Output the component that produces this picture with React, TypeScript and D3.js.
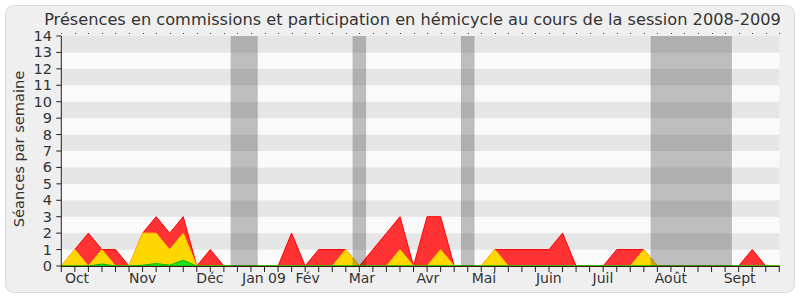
import React from "react";
import * as d3 from "d3";

// Weekly values (week 0 = end of Sept 2008 ... week 53 = end of Sept 2009)
const redSeries = [0,1,2,1,1,0,2,3,2,3,0,1,0,0,0,0,0,2,0,1,1,1,0,1,2,3,0,3,3,0,0,0,1,1,1,1,1,2,0,0,0,1,1,1,0,0,0,0,0,0,0,1,0,0];
const yellowSeries = [0,1,0,1,0,0,2,2,1,2,0,0,0,0,0,0,0,0,0,0,0,1,0,0,0,1,0,0,1,0,0,0,1,0,0,0,0,0,0,0,0,0,0,1,0,0,0,0,0,0,0,0,0,0];
const greenSeries = [0,0,0,0.12,0,0,0.05,0.15,0.05,0.35,0,0,0,0,0,0,0,0,0,0,0,0,0,0,0,0,0,0,0,0,0,0,0,0,0,0,0,0,0,0,0,0,0,0,0,0,0,0,0,0,0,0,0,0];
// Vacation periods [first week, last week]
const vacations: [number, number][] = [[13, 14], [22, 22], [30, 30], [44, 49]];
// Month labels with their (fractional) week position
const monthLabels = ["Oct", "Nov", "Déc", "Jan 09", "Fév", "Mar", "Avr", "Mai", "Juin", "Juil", "Août", "Sept"];
const monthWeeks = [1.16, 6.0, 10.97, 14.96, 18.18, 22.19, 27.06, 31.2, 35.99, 39.98, 45.0, 50.07];
const yTicks = d3.range(0, 15);
const title = "Présences en commissions et participation en hémicycle au cours de la session 2008-2009";
const yTitle = "Séances par semaine";

export default function App() {
  const W = 800, H = 300;
  const x = d3.scaleLinear().domain([0, 53]).range([61.3, 779.3]);
  const y = d3.scaleLinear().domain([0, 14]).range([266, 36]);
  const weeks = d3.range(0, 54);
  const area = (vals: number[]) =>
    d3.area<number>().x((_, i) => x(i)).y0(y(0)).y1((d) => y(d)).curve(d3.curveLinear)(vals) || "";
  const font = "'DejaVu Sans', Verdana, sans-serif";
  return (
    <svg width={W} height={H} style={{ position: "absolute", left: 0, top: 0 }} fontFamily={font}>
      <rect x={0} y={0} width={W} height={H} fill="#ffffff" />
      <rect x={5.5} y={5.5} width={789} height={287} rx={8} fill="#efefef" stroke="#dcdcdc" />
      {/* stripes */}
      {d3.range(0, 14).map((k) => (
        <rect key={k} x={x(0)} y={y(k + 1)} width={x(53) - x(0)} height={y(k) - y(k + 1)}
          fill={k % 2 === 1 ? "#e6e6e6" : "#fafafa"} />
      ))}
      {/* areas */}
      <path d={area(redSeries)} fill="#ff3333" stroke="#ff0000" strokeWidth={1} />
      <path d={area(yellowSeries)} fill="#ffd700" stroke="#ffcc00" strokeWidth={1} />
      <path d={area(greenSeries)} fill="#22dd22" stroke="#00bb00" strokeWidth={1} />
      {/* vacations */}
      {vacations.map(([a, b], i) => (
        <rect key={i} x={x(a - 0.5)} y={y(14)} width={x(b + 0.5) - x(a - 0.5)} height={y(0) - y(14)}
          fill="rgb(50,50,50)" fillOpacity={0.3} />
      ))}
      {/* top dots */}
      {weeks.map((w) => (
        <rect key={w} x={Math.round(x(w))} y={33} width={1} height={1} fill="#444" />
      ))}
      {/* axes */}
      <line x1={x(0)} x2={x(53)} y1={y(0) + 0.5} y2={y(0) + 0.5} stroke="#3a1a0a" />
      <line x1={x(0)} x2={x(0)} y1={y(14)} y2={y(0) + 1} stroke="#222" />
      {weeks.map((w) => (
        <line key={w} x1={x(w)} x2={x(w)} y1={y(0)} y2={y(0) + 6} stroke="#222" />
      ))}
      {yTicks.map((t) => (
        <g key={t}>
          <line x1={x(0) - 5} x2={x(0)} y1={y(t)} y2={y(t)} stroke="#222" />
          <text x={52} y={y(t) + 5} textAnchor="end" fontSize={14.5} fill="#333">{t}</text>
        </g>
      ))}
      {monthLabels.map((m, i) => (
        <text key={m} x={x(monthWeeks[i])} y={283} textAnchor="middle" fontSize={14} fill="#333">{m}</text>
      ))}
      <text x={412.5} y={25} textAnchor="middle" fontSize={16.2} fill="#333">{title}</text>
      <text transform={`translate(24,149) rotate(-90)`} textAnchor="middle" fontSize={14.6} fill="#333">{yTitle}</text>
    </svg>
  );
}
